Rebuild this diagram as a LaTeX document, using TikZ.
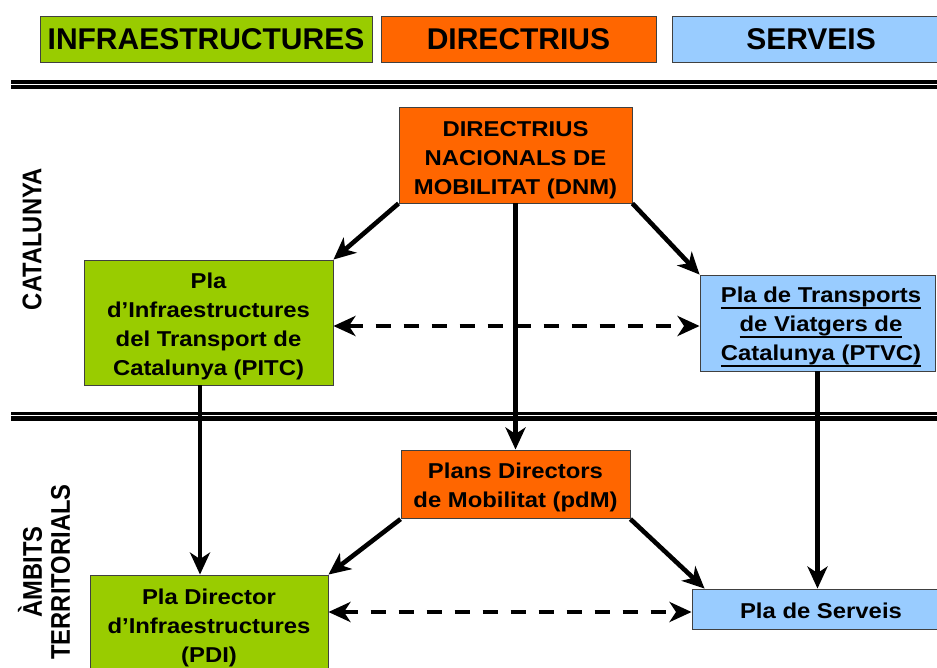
\documentclass[tikz,border=0pt]{standalone}
\usepackage{fontspec}
\usetikzlibrary{arrows.meta,calc}
\newfontfamily\bodyfont{Liberation Sans Bold}[FakeStretch=1.11]
\newfontfamily\headfont{Liberation Sans Bold}
\newfontfamily\sidefont{Liberation Sans Bold}[FakeStretch=0.88]
\definecolor{cgreen}{HTML}{99CC00}
\definecolor{corange}{HTML}{FF6600}
\definecolor{cblue}{HTML}{99CCFF}
\newcommand{\myul}[1]{\setbox0\hbox{#1}\rlap{\rule[-6.5pt]{\wd0}{2.4pt}}\box0}
\tikzset{
  box/.style={draw=black!75, line width=0.9pt, inner sep=0pt},
  gbox/.style={box, fill=cgreen},
  obox/.style={box, fill=corange},
  bbox/.style={box, fill=cblue},
  body/.style={font=\bodyfont\fontsize{21.5}{29}\selectfont, align=center, inner sep=0pt, text=black},
  head/.style={font=\headfont\fontsize{30}{36}\selectfont, inner sep=0pt, text=black},
  side/.style={font=\sidefont\fontsize{27}{28}\selectfont, align=center, inner sep=0pt, rotate=90, text=black},
  tip/.tip={Stealth[length=22pt,width=20pt,inset=6.5pt]},
  arr/.style={line width=4.6pt, -tip},
  darr/.style={line width=4.6pt, dash pattern=on 15pt off 13pt, tip-tip},
}
\begin{document}
\begin{tikzpicture}[x=1pt,y=-1pt]
\useasboundingbox (0,0) rectangle (937,667);

% header boxes
\node[gbox, minimum width=332pt, minimum height=46pt] (h1) at (206,39) {};
\node[head] (h1t) at (h1.center) {INFRAESTRUCTURES};
\node[obox, minimum width=275pt, minimum height=46pt] (h2) at (518.5,39) {};
\node[head] (h2t) at (h2.center) {DIRECTRIUS};
\node[bbox, minimum width=278pt, minimum height=46pt] (h3) at (811,39) {};
\node[head] (h3t) at (h3.center) {SERVEIS};

% separators
\fill[black] (11,80) rectangle (948,89.3);
\draw[white, line width=1.2pt] (11,84.3) -- (948,84.3);
\fill[black] (11,412) rectangle (948,421);
\draw[white, line width=1.2pt] (11,415.3) -- (948,415.3);

% side labels
\node[side] (lcat) at (32,239) {CATALUNYA};
\node[side] (lamb) at (44,572) {ÀMBITS\\TERRITORIALS};

% boxes
\node[obox, minimum width=233pt, minimum height=96pt] (dnm) at (515.5,155) {};
\node[body] (dnmt) at (515.5,160.5) {DIRECTRIUS\\NACIONALS DE\\MOBILITAT (DNM)};

\node[gbox, minimum width=249pt, minimum height=125pt] (pitc) at (208.5,322.5) {};
\node[body] (pitct) at (208.5,326.3) {Pla\\d’Infraestructures\\del Transport de\\Catalunya (PITC)};

\node[bbox, minimum width=235pt, minimum height=96pt] (ptvc) at (817.5,323) {};
\node[body] (ptvct) at (821,327.1) {\myul{Pla de Transports}\\\myul{de Viatgers de}\\\myul{Catalunya (PTVC)}};

\node[obox, minimum width=229pt, minimum height=68.7pt] (pdm) at (515.5,484.3) {};
\node[body] (pdmt) at (515.5,487.3) {Plans Directors\\de Mobilitat (pdM)};

\node[gbox, minimum width=238pt, minimum height=105pt] (pdi) at (209,627.5) {};
\node[body] (pdit) at (209,627.5) {Pla Director\\d’Infraestructures\\(PDI)};

\node[bbox, minimum width=258pt, minimum height=40pt] (serv) at (821,609) {};
\node[body] (servt) at (821,610.5) {Pla de Serveis};

% helper coordinates
\coordinate (xl) at (200,0);
\coordinate (dy1) at (0,326);
\coordinate (dy2) at (0,612);

% connectors
\draw[arr] (dnm.south west) -- (pitc.north east);
\draw[arr] (dnm.south east) -- (ptvc.north west);
\draw[arr] (dnm.south) -- (pdm.north);
\draw[darr] (pitc.east |- dy1) -- (ptvc.west |- dy1);
\draw[arr] (pitc.south -| xl) -- (pdi.north -| xl);
\draw[arr] (ptvc.south) -- (ptvc.south |- serv.north);
\draw[arr] (pdm.south west) -- (pdi.north east);
\draw[arr] (pdm.south east) -- ($(serv.north west)+(13,0)$);
\draw[darr] (pdi.east |- dy2) -- (serv.west |- dy2);
\end{tikzpicture}
\end{document}
